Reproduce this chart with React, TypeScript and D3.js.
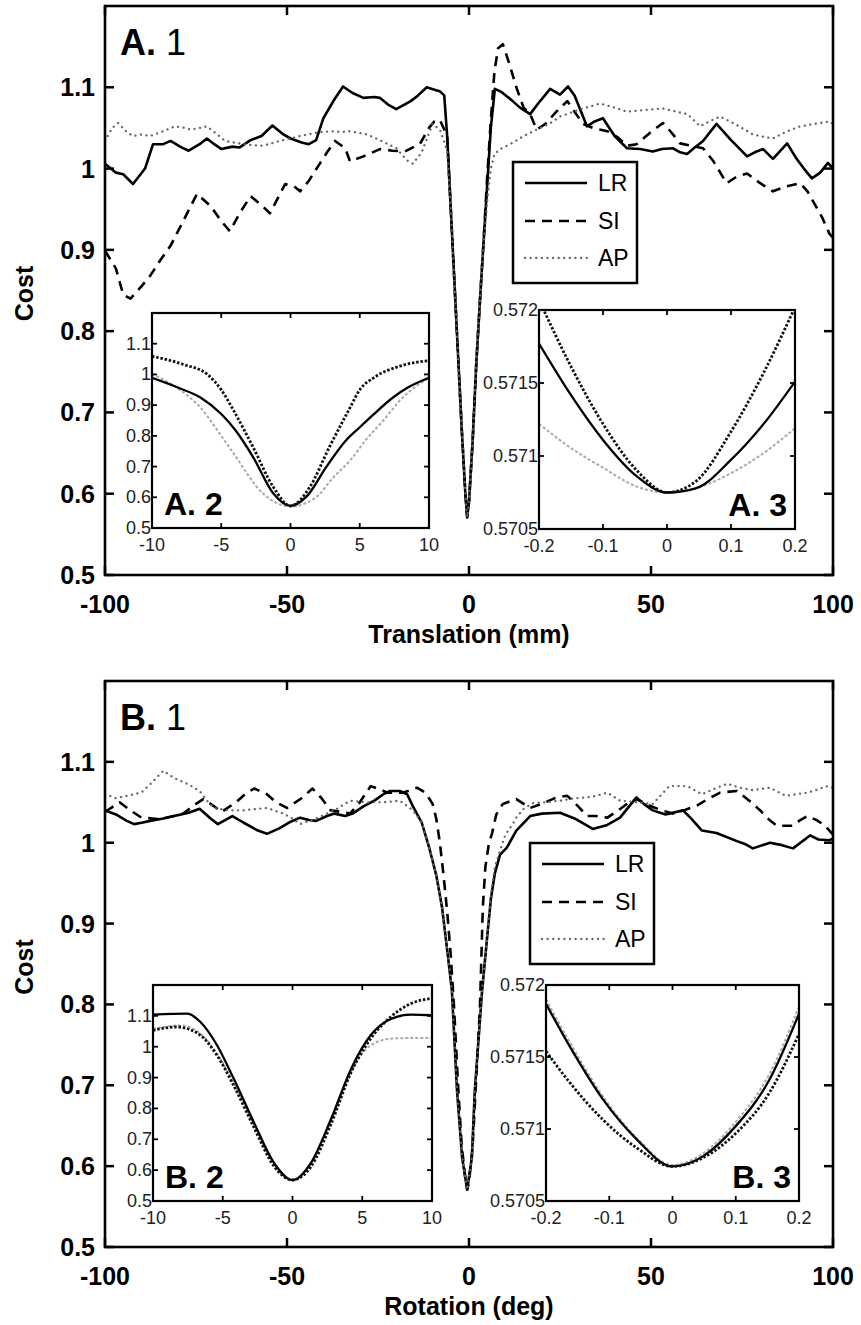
import React from "react";
import * as d3 from "d3";

type Pt = [number, number];

// ticks
const MAIN_X_TICKS = [-100, -50, 0, 50, 100];
const MAIN_Y_TICKS = [0.5, 0.6, 0.7, 0.8, 0.9, 1, 1.1];
const WIDE_X_TICKS = [-10, -5, 0, 5, 10];
const WIDE_Y_TICKS = [0.5, 0.6, 0.7, 0.8, 0.9, 1, 1.1];
const FINE_X_TICKS = [-0.2, -0.1, 0, 0.1, 0.2];
const FINE_Y_TICKS = [0.5705, 0.571, 0.5715, 0.572];
const SERIES_NAMES = ["LR", "SI", "AP"];

// A.1 translation sweep
const A1_LR: Pt[] = [[-100,1.006],[-97,0.995],[-95,0.993],[-92.3,0.981],[-89,1.0],[-86.8,1.03],[-84,1.03],[-82,1.034],[-79,1.026],[-77,1.022],[-74,1.03],[-72,1.037],[-70,1.03],[-68,1.024],[-65,1.027],[-63,1.026],[-60,1.035],[-57,1.04],[-54,1.053],[-51,1.042],[-49,1.037],[-46,1.032],[-44,1.03],[-42,1.035],[-40,1.062],[-37,1.085],[-34.6,1.101],[-32,1.093],[-29,1.087],[-26,1.088],[-24.5,1.087],[-22,1.078],[-20,1.073],[-18,1.078],[-16,1.083],[-14,1.09],[-11.6,1.1],[-9.5,1.097],[-8,1.095],[-6.8,1.09],[-6,1.04],[-5,0.95],[-4,0.86],[-3,0.77],[-2,0.68],[-1,0.6],[-0.5,0.571],[0,0.59],[1,0.665],[2,0.76],[3,0.837],[4,0.909],[5,0.98],[6,1.05],[7.1,1.098],[9,1.094],[12,1.083],[14,1.075],[16.8,1.067],[19,1.08],[22.3,1.098],[25,1.091],[27.2,1.101],[29,1.09],[32.4,1.052],[34.5,1.058],[36.8,1.062],[40,1.04],[43.4,1.025],[47,1.024],[50.5,1.021],[53,1.024],[56,1.025],[58,1.02],[59.9,1.018],[62,1.026],[64.3,1.034],[68,1.055],[72,1.035],[76.4,1.015],[78.5,1.02],[80.8,1.024],[83.5,1.012],[87.4,1.031],[90,1.012],[92,1.0],[94.2,0.988],[96.5,0.995],[98.6,1.007],[100,1.0]];
const A1_SI: Pt[] = [[-100,0.899],[-97,0.877],[-95,0.845],[-93,0.84],[-90,0.855],[-87.6,0.868],[-85,0.886],[-82,0.905],[-78,0.94],[-74.7,0.969],[-73,0.962],[-71,0.954],[-68,0.935],[-65.7,0.923],[-63,0.945],[-60,0.966],[-57,0.955],[-54.7,0.945],[-52,0.968],[-50.5,0.981],[-48,0.978],[-46.4,0.972],[-44,0.985],[-42.3,0.997],[-39,1.02],[-36.8,1.034],[-34,1.025],[-32.7,1.009],[-29,1.015],[-24.5,1.024],[-21,1.022],[-17.6,1.021],[-15,1.027],[-13.5,1.03],[-11,1.05],[-9.5,1.058],[-8,1.06],[-7,1.05],[-6,1.04],[-5,0.95],[-4,0.86],[-3,0.77],[-2,0.68],[-1,0.6],[-0.5,0.571],[0,0.59],[1,0.665],[2,0.76],[3,0.837],[4,0.91],[5,0.99],[6,1.06],[7,1.12],[8,1.148],[9.3,1.153],[11,1.13],[13,1.1],[15,1.075],[16.8,1.067],[18.6,1.048],[21,1.055],[24,1.07],[27,1.083],[29,1.07],[31.3,1.055],[34,1.05],[38,1.046],[41,1.038],[43.4,1.028],[46,1.03],[50,1.045],[53.3,1.056],[55.5,1.045],[58,1.031],[61,1.028],[64.3,1.025],[67,1.01],[70.8,0.982],[73.5,0.99],[76.4,0.994],[80,0.982],[83.5,0.972],[87,0.978],[91,0.982],[93,0.972],[94.5,0.96],[97,0.94],[99,0.92],[100,0.915]];
const A1_AP: Pt[] = [[-100,1.034],[-98,1.05],[-96.4,1.056],[-94,1.045],[-92.3,1.04],[-90,1.042],[-87.6,1.04],[-84,1.046],[-80.8,1.052],[-78,1.05],[-76.6,1.048],[-74,1.05],[-72,1.052],[-70,1.045],[-67,1.034],[-62,1.03],[-57.4,1.028],[-55,1.03],[-52,1.034],[-49,1.037],[-46.4,1.04],[-42,1.044],[-38,1.046],[-35,1.045],[-32.7,1.046],[-28,1.042],[-24.5,1.035],[-20,1.025],[-17,1.01],[-15.4,1.006],[-13,1.02],[-10,1.055],[-8,1.048],[-6.6,1.03],[-6,1.02],[-5,0.95],[-4,0.86],[-3,0.77],[-2,0.68],[-1,0.6],[-0.5,0.571],[0,0.59],[1,0.665],[2,0.76],[3,0.837],[4,0.905],[5,0.96],[6,1.0],[7,1.018],[9,1.025],[11.3,1.03],[15,1.04],[18.6,1.048],[22,1.055],[25,1.064],[30,1.072],[36,1.08],[40,1.075],[43.4,1.07],[48,1.072],[53.3,1.074],[57,1.07],[60,1.067],[63.5,1.052],[66,1.058],[69,1.064],[73,1.055],[78,1.042],[80,1.04],[83.5,1.037],[87,1.045],[91,1.052],[95,1.055],[99,1.058],[100,1.055]];

// B.1 rotation sweep
const B1_LR: Pt[] = [[-100,1.04],[-97,1.035],[-94,1.027],[-92,1.023],[-89.6,1.025],[-87.6,1.027],[-84,1.03],[-81,1.033],[-77,1.037],[-74,1.042],[-71,1.03],[-69,1.023],[-67,1.028],[-65,1.033],[-62,1.025],[-58,1.015],[-55.5,1.011],[-52,1.018],[-49,1.026],[-46.4,1.031],[-44,1.028],[-42,1.027],[-39,1.033],[-37,1.036],[-34,1.033],[-32,1.036],[-29,1.045],[-26,1.052],[-23.5,1.06],[-21.7,1.064],[-19,1.064],[-17,1.06],[-15.4,1.045],[-13,1.025],[-11,0.995],[-9,0.96],[-7.4,0.92],[-5.8,0.86],[-4.7,0.817],[-3.3,0.694],[-1.9,0.611],[-0.5,0.571],[0.8,0.611],[1.6,0.694],[3.6,0.817],[4.9,0.879],[6,0.93],[7.1,0.962],[8.5,0.985],[10.4,0.994],[13,1.015],[16.8,1.033],[20,1.036],[25,1.037],[29,1.03],[34,1.017],[38,1.022],[41.5,1.031],[46,1.056],[48,1.048],[50.5,1.04],[54,1.035],[58.8,1.04],[61,1.03],[64,1.015],[68,1.012],[73.6,1.002],[76,0.998],[78,0.993],[82.7,1.0],[86,0.997],[89,0.993],[93.7,1.009],[96,1.004],[99,1.003],[100,1.005]];
const B1_SI: Pt[] = [[-100,1.038],[-98,1.044],[-96,1.05],[-93,1.04],[-90,1.031],[-87,1.03],[-85,1.029],[-82,1.032],[-78.5,1.036],[-75,1.048],[-73,1.054],[-70,1.045],[-68,1.038],[-64,1.05],[-61,1.062],[-59,1.067],[-55.5,1.06],[-53,1.05],[-50,1.043],[-46,1.055],[-43,1.067],[-40.5,1.055],[-38,1.04],[-35,1.038],[-32.7,1.036],[-30,1.05],[-27,1.07],[-24.5,1.066],[-22.5,1.062],[-18,1.062],[-14.3,1.068],[-12,1.062],[-10,1.048],[-9,1.03],[-8,1.0],[-7,0.96],[-6,0.915],[-5,0.86],[-4.1,0.796],[-3,0.7],[-2,0.625],[-1,0.585],[-0.5,0.571],[0,0.58],[1,0.625],[2,0.71],[3,0.796],[3.8,0.92],[4.5,0.97],[5.5,1.0],[6.3,1.011],[7.5,1.035],[9.3,1.048],[13,1.054],[16.8,1.043],[20,1.048],[24,1.056],[27,1.058],[30,1.045],[32.4,1.033],[35,1.033],[38,1.031],[41,1.04],[44,1.05],[46,1.054],[50,1.045],[53,1.04],[56,1.036],[59,1.04],[62.6,1.046],[66,1.055],[69,1.062],[73.6,1.064],[77,1.052],[80,1.04],[82,1.03],[84.6,1.021],[89,1.021],[91,1.028],[93,1.033],[95.5,1.028],[97.8,1.021],[100,1.01]];
const B1_AP: Pt[] = [[-100,1.06],[-97,1.055],[-94,1.058],[-90,1.062],[-87,1.075],[-84,1.089],[-81,1.08],[-77,1.072],[-74,1.064],[-72,1.052],[-70,1.043],[-66,1.04],[-62,1.04],[-58,1.042],[-55.5,1.043],[-51,1.036],[-48.5,1.03],[-46.4,1.023],[-42,1.03],[-37,1.04],[-32.7,1.052],[-28,1.05],[-23.6,1.05],[-19,1.052],[-15.4,1.04],[-13,1.025],[-11,0.995],[-9,0.96],[-7.4,0.92],[-5.8,0.86],[-4.7,0.817],[-3.3,0.694],[-1.9,0.611],[-0.5,0.571],[0.8,0.611],[1.6,0.694],[3.6,0.817],[4.9,0.879],[6,0.935],[7.1,0.97],[8.5,0.99],[10,1.01],[12,1.023],[13,1.031],[15,1.042],[17.6,1.049],[21,1.05],[25,1.052],[29,1.055],[32.4,1.056],[35,1.058],[38,1.062],[41.5,1.052],[46,1.05],[50.5,1.048],[53,1.06],[55,1.07],[60,1.07],[64,1.06],[67,1.066],[71,1.073],[74.5,1.068],[78,1.065],[82.7,1.068],[87,1.058],[90,1.06],[93,1.062],[96,1.066],[98,1.07],[100,1.068]];

// A.2 / B.2 (+-10)
const A2_LR: Pt[] = [[-10,0.989],[-8,0.955],[-6.5,0.925],[-5,0.871],[-4,0.82],[-2.7,0.731],[-1.25,0.613],[0,0.572],[1.15,0.602],[2.6,0.7],[4,0.785],[5,0.828],[6,0.87],[7.4,0.925],[8.5,0.958],[10,0.989]];
const A2_SI: Pt[] = [[-10,1.059],[-7.7,1.032],[-6,1.0],[-5,0.95],[-4.1,0.882],[-2.7,0.763],[-1.25,0.634],[0,0.572],[1.4,0.634],[2.8,0.763],[4.3,0.892],[5,0.95],[6,0.989],[7.9,1.027],[10,1.045]];
const A2_AP: Pt[] = [[-10,1.002],[-8,0.95],[-6.5,0.892],[-5,0.8],[-4.1,0.742],[-2,0.613],[0,0.57],[1.9,0.602],[3,0.66],[4.3,0.72],[5.5,0.79],[6.7,0.85],[8,0.92],[10,0.99]];
const B2_LR: Pt[] = [[-10,1.104],[-7.55,1.107],[-6.6,1.08],[-5.4,1.004],[-4.2,0.895],[-2.75,0.753],[-1.3,0.622],[0,0.568],[1.3,0.622],[2.75,0.764],[4.2,0.928],[5.6,1.037],[7.05,1.09],[8.5,1.104],[10,1.102]];
const B2_SI: Pt[] = [[-10,1.053],[-8.3,1.064],[-6.6,1.037],[-5.4,0.971],[-4.2,0.873],[-2.75,0.737],[-1.3,0.611],[0,0.568],[1.3,0.61],[2.75,0.748],[4.2,0.917],[5.6,1.026],[7.05,1.097],[8.5,1.14],[10,1.157]];
const B2_AP: Pt[] = [[-10,1.058],[-8,1.069],[-6.6,1.042],[-5.4,0.977],[-4.2,0.88],[-2.75,0.745],[-1.3,0.618],[0,0.568],[1.3,0.62],[2.75,0.76],[4.2,0.92],[5.6,1.004],[7.05,1.026],[8.5,1.028],[10,1.028]];

// A.3 / B.3 (+-0.2)
const A3_LR: Pt[] = [[-0.2,0.57177],[-0.152,0.57143],[-0.1,0.57111],[-0.047,0.57086],[0,0.57075],[0.046,0.57078],[0.099,0.57097],[0.151,0.57122],[0.2,0.57151]];
const A3_SI: Pt[] = [[-0.2,0.57207],[-0.152,0.57163],[-0.1,0.57122],[-0.047,0.5709],[0,0.57075],[0.046,0.57083],[0.099,0.57116],[0.151,0.57157],[0.2,0.57202]];
const A3_AP: Pt[] = [[-0.2,0.57122],[-0.152,0.57106],[-0.1,0.57092],[-0.047,0.57079],[0,0.57075],[0.046,0.57078],[0.099,0.57088],[0.151,0.57102],[0.2,0.57119]];
const B3_LR: Pt[] = [[-0.2,0.57187],[-0.162,0.57157],[-0.109,0.5712],[-0.057,0.57093],[0,0.57074],[0.048,0.57081],[0.1,0.57102],[0.153,0.57134],[0.2,0.5718]];
const B3_SI: Pt[] = [[-0.2,0.57154],[-0.162,0.57132],[-0.109,0.57106],[-0.057,0.57087],[0,0.57074],[0.048,0.5708],[0.1,0.57097],[0.153,0.57125],[0.2,0.57166]];
const B3_AP: Pt[] = [[-0.2,0.5719],[-0.162,0.5716],[-0.109,0.57122],[-0.057,0.57094],[0,0.57075],[0.048,0.57083],[0.1,0.57105],[0.153,0.57138],[0.2,0.57185]];

const FONT = "'Liberation Sans', Arial, Helvetica, sans-serif";

type LineStyle = { stroke: string; width: number; dash?: string; cap?: "round" | "butt" };

const MAIN_STYLES: Record<string, LineStyle> = {
  LR: { stroke: "#000", width: 2.6 },
  SI: { stroke: "#000", width: 2.6, dash: "10,7" },
  AP: { stroke: "#666", width: 2.3, dash: "0.1,5.5", cap: "round" },
};
const INSET_STYLES: Record<string, LineStyle> = {
  LR: { stroke: "#000", width: 2.3 },
  SI: { stroke: "#111", width: 2.8, dash: "2.5,1.8" },
  AP: { stroke: "#aaa", width: 2, dash: "3,2" },
};

const LEFT = 105;
const RIGHT = 833;

function drawPath(pts: Pt[], x: d3.ScaleLinear<number, number>, y: d3.ScaleLinear<number, number>, smooth: boolean) {
  const line = d3
    .line<Pt>()
    .x((d) => x(d[0]))
    .y((d) => y(d[1]))
    .curve(smooth ? d3.curveMonotoneX : d3.curveLinear);
  return line(pts) || "";
}

function Legend({ x, y }: { x: number; y: number }) {
  const w = 124;
  const h = 121;
  const rows = [21, 59, 96];
  return (
    <g>
      <rect x={x} y={y} width={w} height={h} fill="#fff" stroke="#000" strokeWidth={2.5} />
      {SERIES_NAMES.map((name, i) => {
        const st = MAIN_STYLES[name];
        return (
          <g key={name}>
            <line
              x1={x + 12}
              x2={x + 74}
              y1={y + rows[i]}
              y2={y + rows[i]}
              stroke={st.stroke}
              strokeWidth={st.width}
              strokeDasharray={st.dash}
              strokeLinecap={st.cap || "butt"}
            />
            <text x={x + 85} y={y + rows[i] + 8} fontFamily={FONT} fontSize={23}>
              {name}
            </text>
          </g>
        );
      })}
    </g>
  );
}

function MainPanel({ top, bottom, series, xLabel, tag, legend }: {
  top: number;
  bottom: number;
  series: Pt[][];
  xLabel: string;
  tag: string;
  legend: { x: number; y: number };
}) {
  const id = `clip-${tag}`;
  const x = d3.scaleLinear().domain([-100, 100]).range([LEFT, RIGHT]);
  const y = d3.scaleLinear().domain([0.5, 1.2]).range([bottom, top]);
  const tl = 9;
  return (
    <g>
      <defs>
        <clipPath id={id}>
          <rect x={LEFT} y={top} width={RIGHT - LEFT} height={bottom - top} />
        </clipPath>
      </defs>
      <g clipPath={`url(#${id})`}>
        {series.map((pts, i) => {
          const st = MAIN_STYLES[SERIES_NAMES[i]];
          return (
            <path
              key={i}
              d={drawPath(pts, x, y, false)}
              fill="none"
              stroke={st.stroke}
              strokeWidth={st.width}
              strokeDasharray={st.dash}
              strokeLinecap={st.cap || "butt"}
              strokeLinejoin="round"
            />
          );
        })}
      </g>
      {/* ticks point inward on all four sides */}
      {MAIN_X_TICKS.map((t) => (
        <g key={`x${t}`}>
          <line x1={x(t)} x2={x(t)} y1={bottom} y2={bottom - tl} stroke="#000" strokeWidth={2.5} />
          <line x1={x(t)} x2={x(t)} y1={top} y2={top + tl} stroke="#000" strokeWidth={2.5} />
          <text x={x(t)} y={bottom + 38} textAnchor="middle" fontFamily={FONT} fontWeight="bold" fontSize={25}>
            {String(t)}
          </text>
        </g>
      ))}
      {MAIN_Y_TICKS.map((t) => (
        <g key={`y${t}`}>
          <line x1={LEFT} x2={LEFT + tl} y1={y(t)} y2={y(t)} stroke="#000" strokeWidth={2.5} />
          <line x1={RIGHT} x2={RIGHT - tl} y1={y(t)} y2={y(t)} stroke="#000" strokeWidth={2.5} />
          <text x={LEFT - 10} y={y(t)} dy="0.36em" textAnchor="end" fontFamily={FONT} fontWeight="bold" fontSize={25}>
            {String(t)}
          </text>
        </g>
      ))}
      <rect x={LEFT} y={top} width={RIGHT - LEFT} height={bottom - top} fill="none" stroke="#000" strokeWidth={2.6} />
      <text
        transform={`translate(33,${(top + bottom) / 2 + 3}) rotate(-90)`}
        textAnchor="middle"
        fontFamily={FONT}
        fontWeight="bold"
        fontSize={25}
      >
        Cost
      </text>
      <text x={(LEFT + RIGHT) / 2} y={bottom + 68} textAnchor="middle" fontFamily={FONT} fontWeight="bold" fontSize={25}>
        {xLabel}
      </text>
      <text x={LEFT + 15} y={top + 49} fontFamily={FONT} fontSize={36}>
        <tspan fontWeight="bold">{tag}.</tspan>
        <tspan> 1</tspan>
      </text>
      <Legend x={legend.x} y={legend.y} />
    </g>
  );
}

function Inset({ box, xDomain, yDomain, xTicks, yTicks, series, tag, tagRight }: {
  box: { x0: number; x1: number; y0: number; y1: number };
  xDomain: [number, number];
  yDomain: [number, number];
  xTicks: number[];
  yTicks: number[];
  series: Pt[][];
  tag: string;
  tagRight: boolean;
}) {
  const id = `clip-${tag.replace(/[^A-Za-z0-9]/g, "")}`;
  const x = d3.scaleLinear().domain(xDomain).range([box.x0, box.x1]);
  const y = d3.scaleLinear().domain(yDomain).range([box.y1, box.y0]);
  const tl = 5;
  return (
    <g>
      <defs>
        <clipPath id={id}>
          <rect x={box.x0} y={box.y0} width={box.x1 - box.x0} height={box.y1 - box.y0} />
        </clipPath>
      </defs>
      <rect x={box.x0} y={box.y0} width={box.x1 - box.x0} height={box.y1 - box.y0} fill="#fff" />
      <g clipPath={`url(#${id})`}>
        {[2, 0, 1].map((i) => {
          const st = INSET_STYLES[SERIES_NAMES[i]];
          return (
            <path
              key={i}
              d={drawPath(series[i], x, y, true)}
              fill="none"
              stroke={st.stroke}
              strokeWidth={st.width}
              strokeDasharray={st.dash}
            />
          );
        })}
      </g>
      {xTicks.map((t) => (
        <g key={`x${t}`}>
          <line x1={x(t)} x2={x(t)} y1={box.y1} y2={box.y1 - tl} stroke="#000" strokeWidth={1.8} />
          <line x1={x(t)} x2={x(t)} y1={box.y0} y2={box.y0 + tl} stroke="#000" strokeWidth={1.8} />
          <text x={x(t)} y={box.y1 + 23} textAnchor="middle" fontFamily={FONT} fontSize={18} fill="#222">
            {String(t)}
          </text>
        </g>
      ))}
      {yTicks.map((t) => (
        <g key={`y${t}`}>
          <line x1={box.x0} x2={box.x0 + tl} y1={y(t)} y2={y(t)} stroke="#000" strokeWidth={1.8} />
          <line x1={box.x1} x2={box.x1 - tl} y1={y(t)} y2={y(t)} stroke="#000" strokeWidth={1.8} />
          <text x={box.x0 - 1} y={y(t)} dy="0.33em" textAnchor="end" fontFamily={FONT} fontSize={18} fill="#222">
            {String(t)}
          </text>
        </g>
      ))}
      <rect x={box.x0} y={box.y0} width={box.x1 - box.x0} height={box.y1 - box.y0} fill="none" stroke="#000" strokeWidth={2.2} />
      <text
        x={tagRight ? box.x1 - 8 : box.x0 + 12}
        y={box.y1 - 13}
        textAnchor={tagRight ? "end" : "start"}
        fontFamily={FONT}
        fontWeight="bold"
        fontSize={32}
      >
        {tag}
      </text>
    </g>
  );
}

export default function App() {
  return (
    <svg
      width={861}
      height={1325}
      viewBox="0 0 861 1325"
      style={{ position: "absolute", left: 0, top: 0, background: "#fff" }}
    >
      <rect x={0} y={0} width={861} height={1325} fill="#fff" />
      <MainPanel top={6} bottom={575} series={[A1_LR, A1_SI, A1_AP]} xLabel="Translation (mm)" tag="A" legend={{ x: 513, y: 162 }} />
      <Inset
        box={{ x0: 152, x1: 429, y0: 313, y1: 528 }}
        xDomain={[-10, 10]}
        yDomain={[0.5, 1.2]}
        xTicks={WIDE_X_TICKS}
        yTicks={WIDE_Y_TICKS}
        series={[A2_LR, A2_SI, A2_AP]}
        tag="A. 2"
        tagRight={false}
      />
      <Inset
        box={{ x0: 539, x1: 795, y0: 310, y1: 529 }}
        xDomain={[-0.2, 0.2]}
        yDomain={[0.5705, 0.572]}
        xTicks={FINE_X_TICKS}
        yTicks={FINE_Y_TICKS}
        series={[A3_LR, A3_SI, A3_AP]}
        tag="A. 3"
        tagRight={true}
      />
      <MainPanel top={681} bottom={1247} series={[B1_LR, B1_SI, B1_AP]} xLabel="Rotation (deg)" tag="B" legend={{ x: 530, y: 843 }} />
      <Inset
        box={{ x0: 153, x1: 432, y0: 985, y1: 1201 }}
        xDomain={[-10, 10]}
        yDomain={[0.5, 1.2]}
        xTicks={WIDE_X_TICKS}
        yTicks={WIDE_Y_TICKS}
        series={[B2_LR, B2_SI, B2_AP]}
        tag="B. 2"
        tagRight={false}
      />
      <Inset
        box={{ x0: 546, x1: 799, y0: 985, y1: 1201 }}
        xDomain={[-0.2, 0.2]}
        yDomain={[0.5705, 0.572]}
        xTicks={FINE_X_TICKS}
        yTicks={FINE_Y_TICKS}
        series={[B3_LR, B3_SI, B3_AP]}
        tag="B. 3"
        tagRight={true}
      />
    </svg>
  );
}
